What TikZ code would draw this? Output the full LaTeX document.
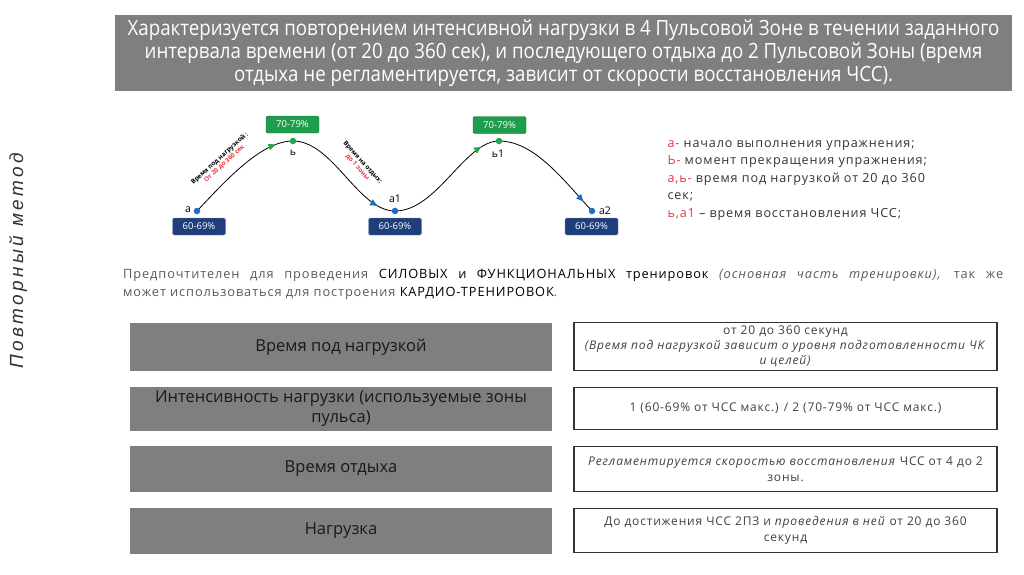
\documentclass[tikz,border=0pt]{standalone}
\usepackage{fontspec}
\setmainfont{Open Sans}
\newfontfamily\bannerfont[FakeStretch=0.89]{Open Sans}
\newfontfamily\sidefont[LetterSpace=18]{Liberation Sans}
\newfontfamily\widefont[LetterSpace=7]{Open Sans}
\usetikzlibrary{arrows.meta,decorations.markings}
\definecolor{slidegray}{HTML}{7F7F7F}
\definecolor{hizone}{HTML}{1E9E4C}
\definecolor{lozone}{HTML}{1F3E7C}
\definecolor{hidot}{HTML}{22A64A}
\definecolor{lodot}{HTML}{1B6FC2}
\definecolor{notered}{HTML}{E8383F}
\definecolor{bodytext}{HTML}{5A5A5A}
\newcommand{\rd}[1]{\textcolor{notered}{#1}}

\begin{document}
\begin{tikzpicture}[x=1pt, y=-1pt,
  banner/.style={fill=slidegray, draw=none, minimum width=897, minimum height=76, inner sep=0pt},
  hibox/.style={fill=hizone, draw=hizone!70!black, rounded corners=1.5, minimum width=53, minimum height=17, inner sep=0pt, text=white, font=\fontsize{9.5}{10}\selectfont},
  lobox/.style={fill=lozone, draw=lozone!60!white, rounded corners=1.5, minimum width=53, minimum height=17, inner sep=0pt, text=white, font=\fontsize{9.5}{10}\selectfont},
  hidotst/.style={circle, fill=hidot, inner sep=0pt, minimum size=6.5},
  lodotst/.style={circle, fill=lodot, inner sep=0pt, minimum size=6.5},
  ptlabel/.style={font=\fontsize{10.5}{11}\selectfont, text=black},
  slope/.style={font=\bfseries\fontsize{6.3}{7}\selectfont, align=center, inner sep=0pt},
  rowkey/.style={fill=slidegray, minimum width=422, inner sep=0pt, text=black!90, align=center, font=\fontsize{16.5}{20}\selectfont},
  rowval/.style={fill=white, draw=black!80, line width=1.3pt, minimum width=423, inner sep=0pt, text=black!75, align=center, font=\widefont\fontsize{12}{15.5}\selectfont}
]
\useasboundingbox (0,0) rectangle (1024,574);

% Banner
\node[banner] (top) at (563.5,53) {};
\node[text=white, align=center, font=\bannerfont\fontsize{21}{23.3}\selectfont] at (top.center)
  {Характеризуется повторением интенсивной нагрузки в 4 Пульсовой Зоне в течении заданного\\
   интервала времени (от 20 до 360 сек), и последующего отдыха до 2 Пульсовой Зоны (время\\
   отдыха не регламентируется, зависит от скорости восстановления ЧСС).};

% Side title
\node[rotate=90, text=black!80, font=\sidefont\itshape\fontsize{19}{22}\selectfont] (side) at (18,261) {Повторный метод};

% Points of the curve
\coordinate (a) at (197,211);
\coordinate (b) at (293,141);
\coordinate (a1) at (395,211);
\coordinate (b1) at (499,141);
\coordinate (a2) at (592,211);

% Curve: load and rest
\draw[thick, postaction={decorate}, decoration={markings, mark=at position 0.86 with {\arrow[hidot]{Latex[length=8,width=7]}}}]
  (a) .. controls (228,178) and (262,141) .. (b);
\draw[thick, postaction={decorate}, decoration={markings, mark=at position 0.86 with {\arrow[lodot]{Latex[length=8,width=7]}}}]
  (b) .. controls (333,141) and (358,211) .. (a1);
\draw[thick, postaction={decorate}, decoration={markings, mark=at position 0.86 with {\arrow[hidot]{Latex[length=8,width=7]}}}]
  (a1) .. controls (437,211) and (465,141) .. (b1);
\draw[thick, postaction={decorate}, decoration={markings, mark=at position 0.9 with {\arrow[lodot]{Latex[length=8,width=7]}}}]
  (b1) .. controls (535,141) and (565,182) .. (a2);

% Dots
\foreach \p in {a,a1,a2} {
  \node[lodotst] (d\p) at (\p) {};
}
\foreach \p in {b,b1} {
  \node[hidotst] (d\p) at (\p) {};
}
\node[ptlabel] at (188,210) {а};
\node[ptlabel] at (293,153) {ь};
\node[ptlabel] at (395,199) {а1};
\node[ptlabel] at (498,154) {ь1};
\node[ptlabel] at (605,211) {а2};

% Zone boxes
\node[hibox] (z1) at (292.5,124.5) {70-79\%};
\node[hibox] (z2) at (499.5,125) {70-79\%};
\node[lobox] (z3) at (199,226.5) {60-69\%};
\node[lobox] (z4) at (395,226.5) {60-69\%};
\node[lobox] (z5) at (591.5,226.5) {60-69\%};

% Slope notes
\node[slope, rotate=42] at (222,161) {Время под нагрузкой :\\ \rd{От 20 до 360 сек}};
\node[slope, rotate=-48] at (360,165) {Время на отдых:\\ \rd{до 1 зоны}};

% Legend
\node[anchor=north west, align=left, text=black!80, font=\widefont\fontsize{12.6}{17.5}\selectfont] (legend) at (664,137)
  {\rd{а-} начало выполнения упражнения;\\
   \rd{Ь-} момент прекращения упражнения;\\
   \rd{а,ь-} время под нагрузкой от 20 до 360\\
   сек;\\
   \rd{ь,а1} – время восстановления ЧСС;};

% Paragraph
\node[anchor=north west, text width=880, align=justify, inner sep=0pt, text=bodytext, font=\widefont\fontsize{12.8}{18}\selectfont] (para) at (123,269)
  {Предпочтителен для проведения \textcolor{black}{СИЛОВЫХ и ФУНКЦИОНАЛЬНЫХ тренировок} \textit{(основная часть тренировки),} так же\linebreak может использоваться для построения \textcolor{black}{КАРДИО-ТРЕНИРОВОК}.\par};

% Rows
\node[rowkey, minimum height=48] (k1) at (341,347) {Время под нагрузкой};
\node[rowkey, minimum height=44] (k2) at (341,408.5) {Интенсивность нагрузки (используемые зоны\\ пульса)};
\node[rowkey, minimum height=46] (k3) at (341,469) {Время отдыха};
\node[rowkey, minimum height=46] (k4) at (341,530.5) {Нагрузка};

\node[rowval, minimum height=48, font=\widefont\fontsize{12}{14.8}\selectfont] (v1) at (785.5,346.5) {от 20 до 360 секунд\\ \textit{(Время под нагрузкой зависит о уровня подготовленности ЧК}\\ \textit{и целей)}};
\node[rowval, minimum height=42] (v2) at (785.5,408.5) {1 (60-69\% от ЧСС макс.) / 2 (70-79\% от ЧСС макс.)};
\node[rowval, minimum height=45] (v3) at (785.5,469) {\textit{Регламентируется скоростью восстановления} ЧСС от 4 до 2\\ зоны.};
\node[rowval, minimum height=44] (v4) at (785.5,530.5) {До достижения ЧСС 2ПЗ и \textit{проведения в ней} от 20 до 360\\ секунд};
\end{tikzpicture}
\end{document}
